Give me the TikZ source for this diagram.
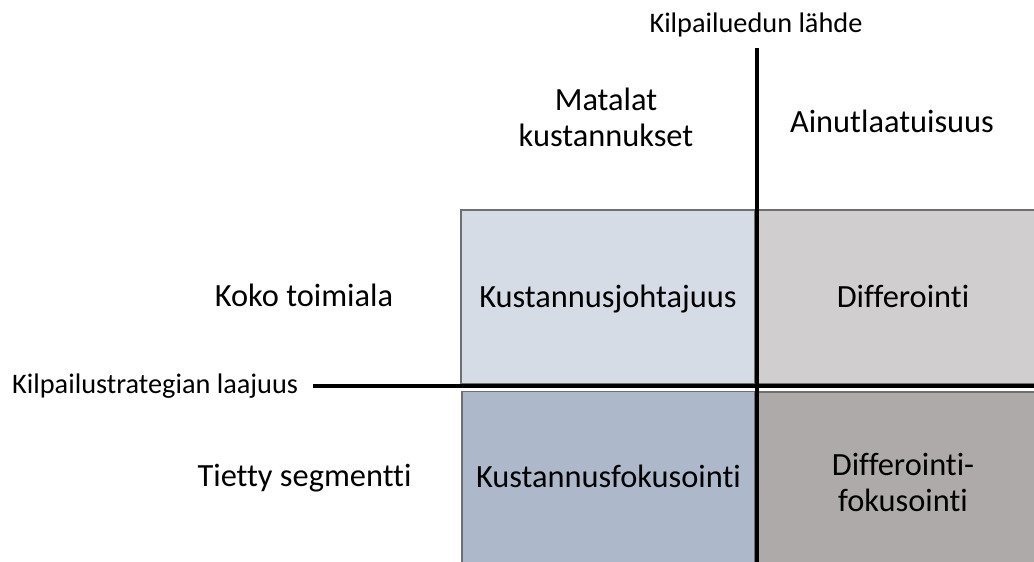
\documentclass[tikz,border=0pt]{standalone}
\usepackage{fontspec}
\setmainfont[Ligatures=NoCommon]{Carlito}
\definecolor{celltl}{HTML}{D6DCE5}
\definecolor{cellbl}{HTML}{ADB9CA}
\definecolor{celltr}{HTML}{D0CECE}
\definecolor{cellbr}{HTML}{AEAAAA}
\definecolor{cellborder}{HTML}{6F6F6F}
\begin{document}
\begin{tikzpicture}[x=1pt,y=-1pt,
  cell/.style={draw=cellborder, line width=1.5pt, inner sep=0pt, outer sep=0pt,
    align=center, font=\fontsize{32.4}{36}\selectfont},
  oneline/.style={text height=24pt, text depth=4pt},
  bigtext/.style={inner sep=0pt, align=center, font=\fontsize{32.4}{36}\selectfont},
  smalltext/.style={inner sep=0pt, font=\fontsize{28.3}{34}\selectfont},
  axisline/.style={draw=black, line width=3.5pt}]
\useasboundingbox (0,0) rectangle (1034,562);
\fill[white] (0,0) rectangle (1034,562);
\begin{scope}
\clip (0,0) rectangle (1034,562);
\node[cell, oneline, fill=celltl, minimum width=294pt, minimum height=174pt] (kj) at (608,297) {Kustannusjohtajuus};
\node[cell, oneline, fill=celltr, minimum width=290pt, minimum height=174pt] (dif) at (903,297) {Differointi};
\node[cell, oneline, fill=cellbl, minimum width=293pt, minimum height=172pt] (kf) at (608.5,477.5) {Kustannusfokusointi};
\node[cell, fill=cellbr, minimum width=290pt, minimum height=181pt] (df) at (903,482.5) {Differointi-\\fokusointi};
\end{scope}
% axes
\coordinate (vtop) at (757,48);
\coordinate (vbot) at (757,562);
\coordinate (hl) at (313,386);
\coordinate (hr) at (1034,386);
\draw[axisline] (vtop) -- (vbot);
\draw[axisline] (hl) -- (hr);
% labels
\node[smalltext, anchor=base] (src) at (756,32) {Kilpailuedun lähde};
\node[smalltext, anchor=base west] (scope) at (12,393) {Kilpailustrategian laajuus};
\node[bigtext] (low) at (606,117) {Matalat\\kustannukset};
\node[bigtext, anchor=base] (uniq) at (892,132) {Ainutlaatuisuus};
\node[bigtext, anchor=base] (whole) at (304,306) {Koko toimiala};
\node[bigtext, anchor=base] (seg) at (304.5,486) {Tietty segmentti};
\end{tikzpicture}
\end{document}
